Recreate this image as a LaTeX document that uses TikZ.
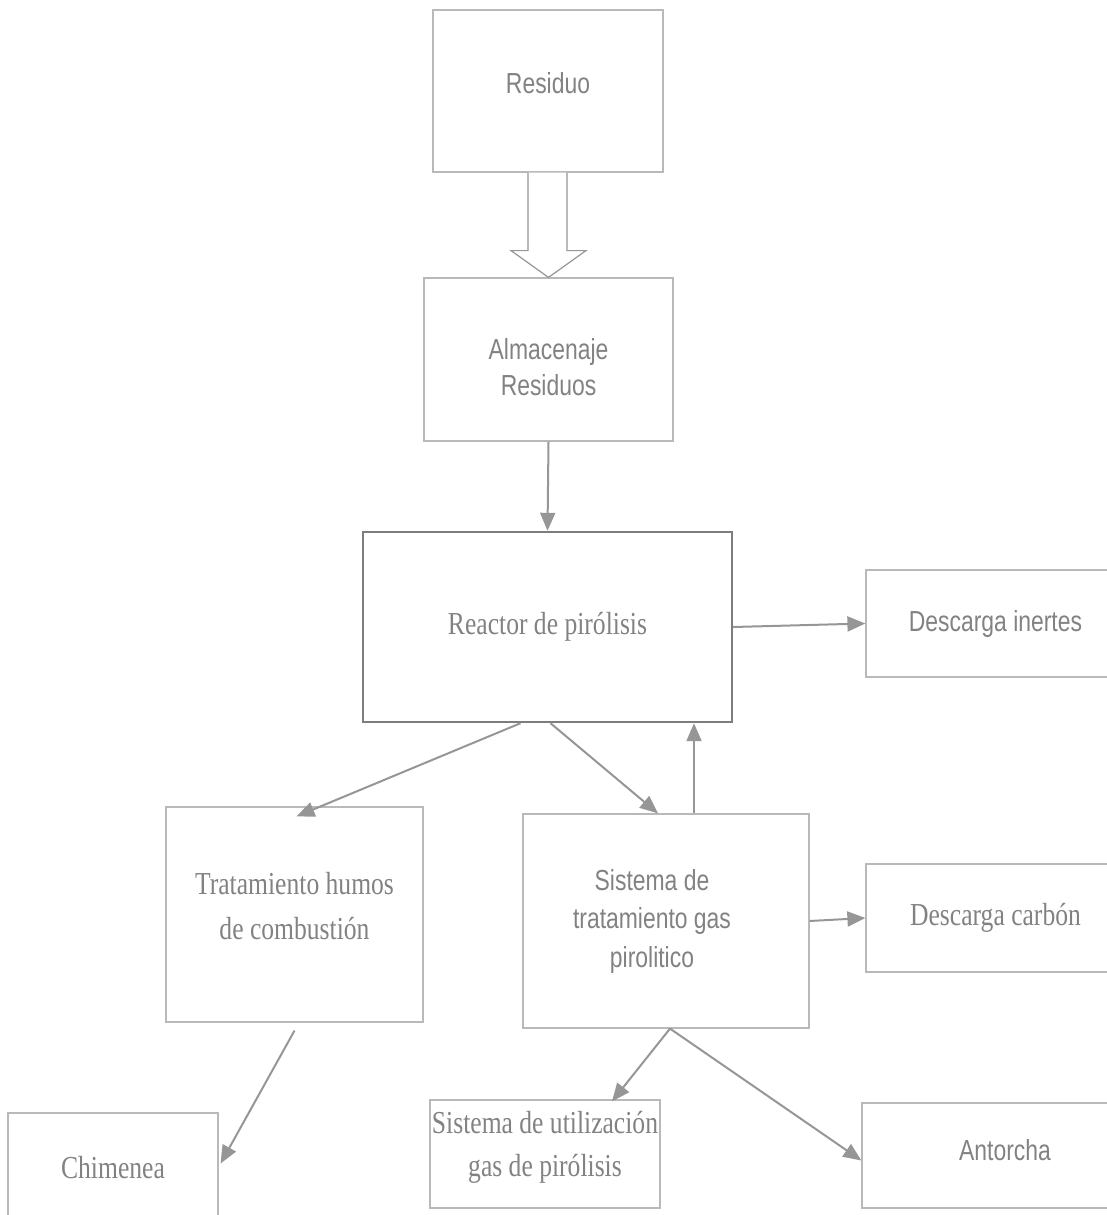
\documentclass[tikz,border=0pt]{standalone}
\usepackage{fontspec}
\setmainfont{Liberation Serif}[FakeStretch=0.8]
\setsansfont{Liberation Sans}[FakeStretch=0.79]
\usepackage{tikz}
\usepackage{xcolor}
\usetikzlibrary{arrows.meta,positioning,calc}
\definecolor{linegray}{RGB}{150,150,150}
\definecolor{boxgray}{RGB}{185,185,185}
\definecolor{textgray}{RGB}{130,130,130}
\definecolor{reactorgray}{RGB}{125,125,125}

% centred lines, raised by #1 and taking no height
\newcommand{\lift}[2]{\raisebox{#1}[0pt][0pt]{\begin{tabular}{@{}c@{}}#2\end{tabular}}}

\tikzset{
  box/.style={draw=boxgray, line width=0.6pt, text=textgray, align=center, inner sep=0pt},
  sansbox/.style={box, font=\sffamily\fontsize{14.5}{19.3}\selectfont},
  serifbox/.style={box, font=\rmfamily\fontsize{16}{22}\selectfont},
  flow/.style={draw=linegray, line width=1pt, -{Triangle[length=9pt,width=7.5pt]}}
}

\begin{document}
\begin{tikzpicture}[x=0.5pt,y=-0.5pt]
    \useasboundingbox (0,0) rectangle (1107,1215);
    \clip (0,0) rectangle (1107,1215);

    % Boxes
    \node[sansbox, minimum width=115pt, minimum height=81pt] (residuo) at (548,91) {\lift{-1.1pt}{Residuo}};
    \node[sansbox, minimum width=124.5pt, minimum height=81.5pt] (almacen) at (548.5,359.5)
        {\fontsize{14.5}{18}\selectfont\lift{-9.1pt}{Almacenaje\\Residuos}};
    \node[serifbox, draw=reactorgray, line width=1.2pt, minimum width=184.5pt, minimum height=95pt] (reactor) at (547.5,627) {Reactor de pirólisis};
    \node[sansbox, minimum width=129.5pt, minimum height=53.5pt] (inertes) at (995.5,623.5) {Descarga inertes};
    \node[serifbox, minimum width=128.5pt, minimum height=107.5pt] (humos) at (294.5,914.5)
        {\fontsize{16}{22.5}\selectfont\lift{-1pt}{Tratamiento humos\\de combustión}};
    \node[sansbox, minimum width=143pt, minimum height=107pt] (gastrat) at (666,921)
        {\lift{-3.6pt}{Sistema de\\tratamiento gas\\pirolitico}\hspace*{14pt}};
    \node[serifbox, minimum width=129.5pt, minimum height=54pt] (carbon) at (995.5,918) {Descarga carbón};
    \node[serifbox, minimum width=105pt, minimum height=63.5pt] (chimenea) at (113,1176.5) {\lift{-1pt}{Chimenea}};
    \node[serifbox, minimum width=115pt, minimum height=54pt] (utiliz) at (545,1154)
        {\fontsize{16}{21.5}\selectfont\lift{-0.5pt}{Sistema de utilización\\gas de pirólisis}};
    \node[sansbox, minimum width=131.5pt, minimum height=52.5pt] (antorcha) at (993.5,1155.5) {\hspace*{11.5pt}\lift{-2.1pt}{Antorcha}};

    % Hollow feed arrow
    \draw[draw=linegray, line width=0.6pt, fill=white]
        ($(residuo.south)+(-20,0)$) -- ($(residuo.south)+(-20,78)$)
        -- ($(residuo.south)+(-37,78)$) -- (almacen.north)
        -- ($(residuo.south)+(38,78)$) -- ($(residuo.south)+(19,78)$)
        -- ($(residuo.south)+(19,0)$);

    % Flows
    \draw[flow] (almacen.south) -- (reactor.north);
    \draw[flow] (reactor.east) -- (inertes.west);
    \draw[flow] ($(reactor.south)+(-27,0)$) -- ($(humos.north)+(2,10)$);
    \draw[flow] ($(reactor.south)+(3,0)$) -- ($(gastrat.north)+(-8,0)$);
    \coordinate (retorno) at ($(gastrat.north)+(28,0)$);
    \draw[flow] (retorno) -- (retorno |- reactor.south);
    \draw[flow] (gastrat.east) -- (carbon.west);
    \draw[flow] ($(humos.south)+(0,8)$) -- ($(chimenea.east)+(2,-13)$);
    \draw[flow] ($(gastrat.south)+(4,0)$) -- ($(utiliz.north)+(67,2)$);
    \draw[flow] ($(gastrat.south)+(4,0)$) -- ($(antorcha.west)+(0,5)$);
\end{tikzpicture}
\end{document}
